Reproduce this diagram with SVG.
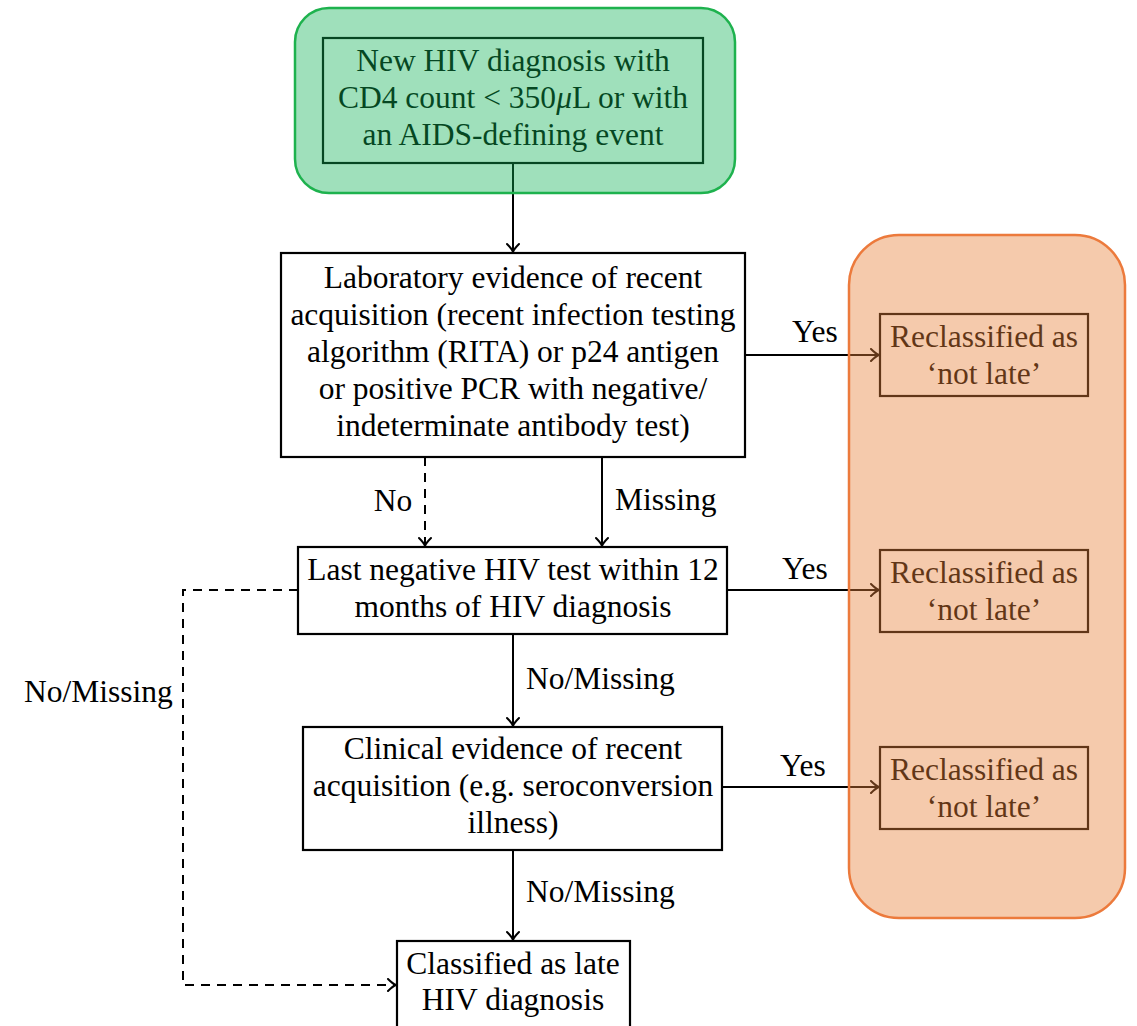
<svg xmlns="http://www.w3.org/2000/svg" width="1137" height="1026" viewBox="0 0 1137 1026">
<defs>
<style>
text{font-family:"Liberation Serif","Times New Roman",serif;font-size:31.5px;fill:#000;text-anchor:middle}
.lbl{text-anchor:start}
.box{fill:none;stroke:#000;stroke-width:2.2}
.ln{fill:none;stroke:#000;stroke-width:2}
.dash{stroke-dasharray:9,7}
.grp-green{fill:#0fb255;fill-opacity:0.4;stroke:#1eb24e;stroke-width:2.5}
.grp-orange{fill:#e6803a;fill-opacity:0.42;stroke:#ec7a3c;stroke-width:2.5}
</style>
<marker id="arr" viewBox="-10 -7 12 14" refX="0" refY="0" markerWidth="12" markerHeight="14" markerUnits="userSpaceOnUse" orient="auto">
<path d="M-8,-6 Q-3,-1 0,0 Q-3,1 -8,6" fill="none" stroke="#000" stroke-width="2" stroke-linecap="round"/>
</marker>
</defs>
<rect width="1137" height="1026" fill="#fff"/>

<g id="connectors">
<line class="ln" x1="513" y1="163" x2="513" y2="252" marker-end="url(#arr)"/>
<line class="ln" x1="745" y1="355" x2="879" y2="355" marker-end="url(#arr)"/>
<line class="ln dash" x1="425" y1="457" x2="425" y2="546" marker-end="url(#arr)"/>
<line class="ln" x1="602" y1="457" x2="602" y2="546" marker-end="url(#arr)"/>
<line class="ln" x1="727" y1="590" x2="879" y2="590" marker-end="url(#arr)"/>
<line class="ln" x1="513" y1="634" x2="513" y2="726" marker-end="url(#arr)"/>
<line class="ln" x1="722" y1="787" x2="879" y2="787" marker-end="url(#arr)"/>
<line class="ln" x1="513" y1="850" x2="513" y2="940" marker-end="url(#arr)"/>
<polyline class="ln dash" points="298,590 183,590 183,985 396,985" marker-end="url(#arr)"/>
<text class="lbl" x="792" y="342">Yes</text>
<text class="lbl" x="782" y="579">Yes</text>
<text class="lbl" x="780" y="776">Yes</text>
<text x="393" y="511">No</text>
<text class="lbl" x="615" y="510">Missing</text>
<text class="lbl" x="526" y="689">No/Missing</text>
<text class="lbl" x="526" y="902">No/Missing</text>
<text class="lbl" x="24" y="702">No/Missing</text>
</g>

<g id="n-new-hiv">
<rect class="box" x="323" y="38" width="380" height="125"/>
<text x="513" y="71">New HIV diagnosis with</text>
<text x="513" y="108">CD4 count &lt; 350<tspan font-style="italic">μ</tspan>L or with</text>
<text x="513" y="145">an AIDS-defining event</text>
</g>

<g id="n-lab">
<rect class="box" x="281" y="253" width="464" height="204"/>
<text x="513" y="288">Laboratory evidence of recent</text>
<text x="513" y="325">acquisition (recent infection testing</text>
<text x="513" y="362">algorithm (RITA) or p24 antigen</text>
<text x="513" y="399">or positive PCR with negative/</text>
<text x="513" y="436">indeterminate antibody test)</text>
</g>

<g id="n-lastneg">
<rect class="box" x="298" y="547" width="429" height="87"/>
<text x="513" y="580">Last negative HIV test within 12</text>
<text x="513" y="617">months of HIV diagnosis</text>
</g>

<g id="n-clinical">
<rect class="box" x="303" y="727" width="419" height="123"/>
<text x="513" y="759">Clinical evidence of recent</text>
<text x="513" y="796">acquisition (e.g. seroconversion</text>
<text x="513" y="833">illness)</text>
</g>

<g id="n-late">
<rect class="box" x="397" y="941" width="233" height="95"/>
<text x="513" y="974">Classified as late</text>
<text x="513" y="1010">HIV diagnosis</text>
</g>

<g id="n-reclass1">
<rect class="box" x="880" y="314" width="208" height="82"/>
<text x="984" y="347">Reclassified as</text>
<text x="984" y="384">‘not late’</text>
</g>
<g id="n-reclass2">
<rect class="box" x="880" y="550" width="208" height="82"/>
<text x="984" y="583">Reclassified as</text>
<text x="984" y="620">‘not late’</text>
</g>
<g id="n-reclass3">
<rect class="box" x="880" y="747" width="208" height="82"/>
<text x="984" y="780">Reclassified as</text>
<text x="984" y="817">‘not late’</text>
</g>

<g id="g-green-highlight">
<rect class="grp-green" x="295" y="8" width="440" height="185" rx="34"/>
</g>
<g id="g-orange-highlight">
<rect class="grp-orange" x="849" y="235" width="276" height="683" rx="50"/>
</g>
</svg>
